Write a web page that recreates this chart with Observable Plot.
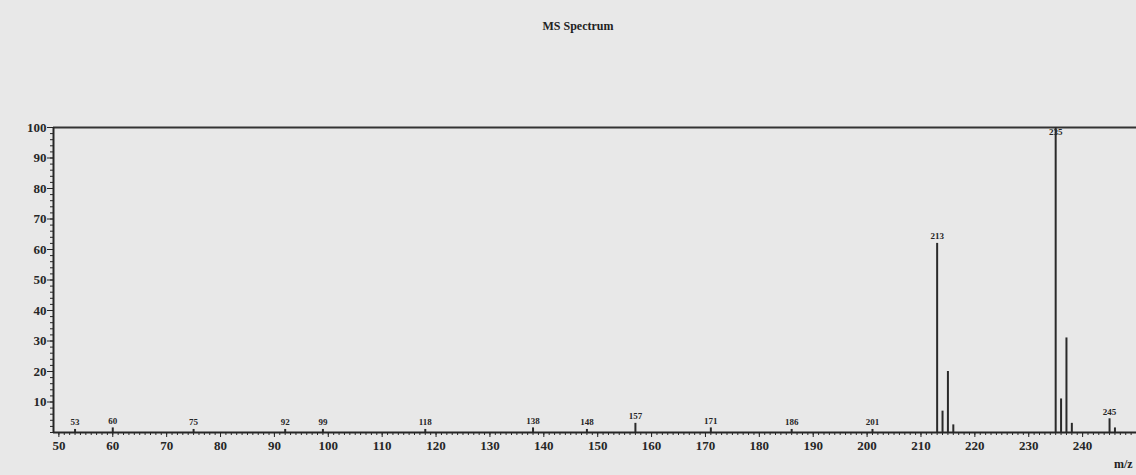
<!DOCTYPE html>
<html>
<head>
<meta charset="utf-8">
<script src="https://cdn.jsdelivr.net/npm/d3@7"></script>
<script src="https://cdn.jsdelivr.net/npm/@observablehq/plot@0.6"></script>
<style>
  html, body { margin: 0; padding: 0; background: #e8e8e8; overflow: hidden; }
  #wrap { position: relative; width: 1136px; height: 475px; }
  #title { position: absolute; top: 19px; left: 0; width: 1156px; text-align: center;
           font-family: "Liberation Serif", serif; font-weight: bold; font-size: 12px; color: #222; }
  #mzlabel { position: absolute; left: 1114px; top: 457px; font-family: "Liberation Serif", serif;
             font-weight: bold; font-size: 12px; color: #222; white-space: nowrap; }
  #chart { position: absolute; top: 0; left: 0; }
</style>
</head>
<body>
<div id="wrap">
  <div id="title">MS Spectrum</div>
  <div id="chart"></div>
  <div id="mzlabel">m/z</div>
</div>
<script>
const mz        = [53, 60, 75, 92, 99, 118, 138, 148, 157, 171, 186, 201, 213, 214, 215, 216, 235, 236, 237, 238, 245, 246];
const intensity = [1, 1.5, 1, 1, 1, 1, 1.5, 1, 3, 1.5, 1, 1, 62, 7, 20, 2.5, 100, 11, 31, 3, 4.5, 1.5];
const labeledMz = [53, 60, 75, 92, 99, 118, 138, 148, 157, 171, 186, 201, 213, 235, 245];
const xTickLabels = [50, 60, 70, 80, 90, 100, 110, 120, 130, 140, 150, 160, 170, 180, 190, 200, 210, 220, 230, 240];
const yTickLabels = [10, 20, 30, 40, 50, 60, 70, 80, 90, 100];

const peaks = mz.map((m, i) => ({mz: m, intensity: intensity[i]}));
const labels = peaks.filter(p => labeledMz.includes(p.mz));
const maxI = d3.max(intensity);

const ink = "#262626";
const chart = Plot.plot({
  width: 1136,
  height: 475,
  marginTop: 127,
  marginBottom: 43,
  marginLeft: 53,
  marginRight: 0,
  style: {background: "transparent", fontFamily: "Liberation Serif, serif", color: ink},
  x: {domain: [49, 250], label: null},
  y: {domain: [0, 100], label: null},
  marks: [
    Plot.axisY({ticks: d3.range(0, 101, 2), tickSize: 3, text: null, label: null, stroke: ink}),
    Plot.axisY({ticks: yTickLabels, tickSize: 6, tickPadding: 1, fontSize: 13, fontWeight: "bold", label: null, stroke: ink}),
    Plot.axisX({ticks: d3.range(50, 251, 1), tickSize: 3, text: null, label: null, stroke: ink}),
    Plot.axisX({ticks: xTickLabels, tickSize: 5, tickPadding: 3, fontSize: 13, fontWeight: "bold", label: null, stroke: ink}),
    Plot.ruleY([100], {stroke: "#333", strokeWidth: 2}),
    Plot.ruleY([0], {stroke: ink, strokeWidth: 2}),
    Plot.ruleX([49], {stroke: ink, strokeWidth: 2}),
    Plot.ruleX(peaks, {x: "mz", y1: 0, y2: "intensity", stroke: "#2a2a2a", strokeWidth: 2}),
    Plot.text(labels.filter(d => d.intensity < maxI), {x: "mz", y: "intensity", text: d => String(d.mz), dy: -7, fontSize: 9, fontWeight: "bold", fill: ink}),
    Plot.text(labels.filter(d => d.intensity >= maxI), {x: "mz", y: "intensity", text: d => String(d.mz), dy: 5, fontSize: 9, fontWeight: "bold", fill: ink})
  ]
});
document.getElementById("chart").appendChild(chart);
</script>
</body>
</html>
